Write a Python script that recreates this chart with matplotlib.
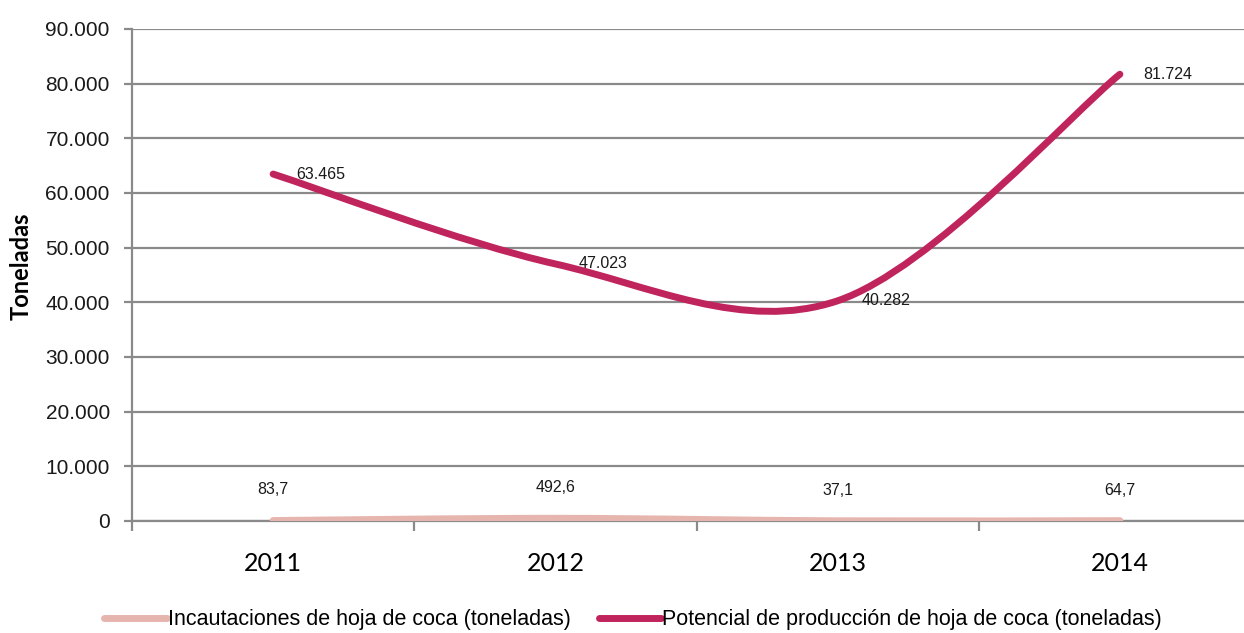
import numpy as np
import matplotlib
matplotlib.use("Agg")
import matplotlib.pyplot as plt
from matplotlib.path import Path
from matplotlib.patches import PathPatch
from matplotlib.lines import Line2D
from matplotlib.ticker import FuncFormatter

years = ["2011", "2012", "2013", "2014"]
incautaciones = [83.7, 492.6, 37.1, 64.7]
potencial = [63465, 47023, 40282, 81724]
y_ticks = [0, 10000, 20000, 30000, 40000, 50000, 60000, 70000, 80000, 90000]

label_inc = "Incautaciones de hoja de coca (toneladas)"
label_pot = "Potencial de producción de hoja de coca (toneladas)"

ARIAL = ["Liberation Sans", "DejaVu Sans"]
CAL = ["Lato", "DejaVu Sans"]
GRID = "#8a8a8a"
PINK = "#e6b5ae"
CRIMSON = "#c0245c"


def _miles(v):
    return f"{v:,.0f}".replace(",", ".")


def _decimal(v):
    return f"{v:.1f}".replace(".", ",")


def _smooth_path(xs, ys):
    # catmull-rom style bezier, like excel's smoothed line
    pts = np.column_stack([xs, ys]).astype(float)
    ext = np.vstack([pts[0], pts, pts[-1]])
    verts = [pts[0]]
    codes = [Path.MOVETO]
    for i in range(len(pts) - 1):
        p0, p1, p2, p3 = ext[i], ext[i + 1], ext[i + 2], ext[i + 3]
        verts += [p1 + (p2 - p0) / 6, p2 - (p3 - p1) / 6, p2]
        codes += [Path.CURVE4] * 3
    return Path(verts, codes)


def plot():
    fig = plt.figure(figsize=(12.44, 6.33), dpi=100)
    ax = fig.add_axes([132 / 1244, 1 - 521 / 633, (1261 - 132) / 1244, (521 - 29) / 633])

    x = np.arange(len(years))
    for vals, col in [(incautaciones, PINK), (potencial, CRIMSON)]:
        patch = PathPatch(_smooth_path(x, vals), facecolor="none", edgecolor=col,
                          linewidth=5, capstyle="round", joinstyle="round", zorder=3)
        ax.add_patch(patch)

    for xi, v in zip(x, potencial):
        ax.annotate(_miles(v), (xi, v), xytext=(17, 0), textcoords="offset points",
                    ha="left", va="center", fontsize=11.5, family=ARIAL, color="#1a1a1a", zorder=4)
    for xi, v in zip(x, incautaciones):
        ax.annotate(_decimal(v), (xi, v), xytext=(0, 22), textcoords="offset points",
                    ha="center", va="center", fontsize=11.5, family=ARIAL, color="#1a1a1a", zorder=4)

    ax.set_xlim(-0.5, len(years) - 0.5)
    ax.set_ylim(0, 90000)
    ax.set_yticks(y_ticks)
    ax.yaxis.set_major_formatter(FuncFormatter(lambda v, p: _miles(v)))
    ax.grid(axis="y", color=GRID, linewidth=1.6, zorder=1)
    ax.set_axisbelow(True)

    ax.set_xticks(x)
    ax.set_xticklabels(years)
    ax.set_xticks(np.arange(len(years) + 1) - 0.5, minor=True)
    ax.tick_params(axis="x", which="major", length=0, pad=22, labelsize=18)
    ax.tick_params(axis="x", which="minor", length=7, width=1.6, color=GRID)
    ax.tick_params(axis="y", length=6, width=1.6, color=GRID, pad=10, labelsize=15, labelcolor="#1a1a1a")
    for lab in ax.get_xticklabels():
        lab.set_family(CAL)
    for lab in ax.get_yticklabels():
        lab.set_family(ARIAL)

    for side in ["top", "right"]:
        ax.spines[side].set_visible(False)
    for side in ["left", "bottom"]:
        ax.spines[side].set_color(GRID)
        ax.spines[side].set_linewidth(1.6)

    ax.set_ylabel("Toneladas", fontsize=17, fontweight="bold", family=CAL)
    ax.yaxis.set_label_coords(-0.088, 0.518)

    handles = [Line2D([], [], color=PINK, linewidth=5, solid_capstyle="round"),
               Line2D([], [], color=CRIMSON, linewidth=5, solid_capstyle="round")]
    fig.legend(handles, [label_inc, label_pot], loc="center", bbox_to_anchor=(0.509, 1 - 620 / 633),
               ncol=2, frameon=False, handlelength=2.9, handletextpad=0.05, columnspacing=1.3,
               borderaxespad=0, borderpad=0, prop={"family": ARIAL, "size": 15.5})

    fig.savefig("out.png", dpi=100)


plot()
